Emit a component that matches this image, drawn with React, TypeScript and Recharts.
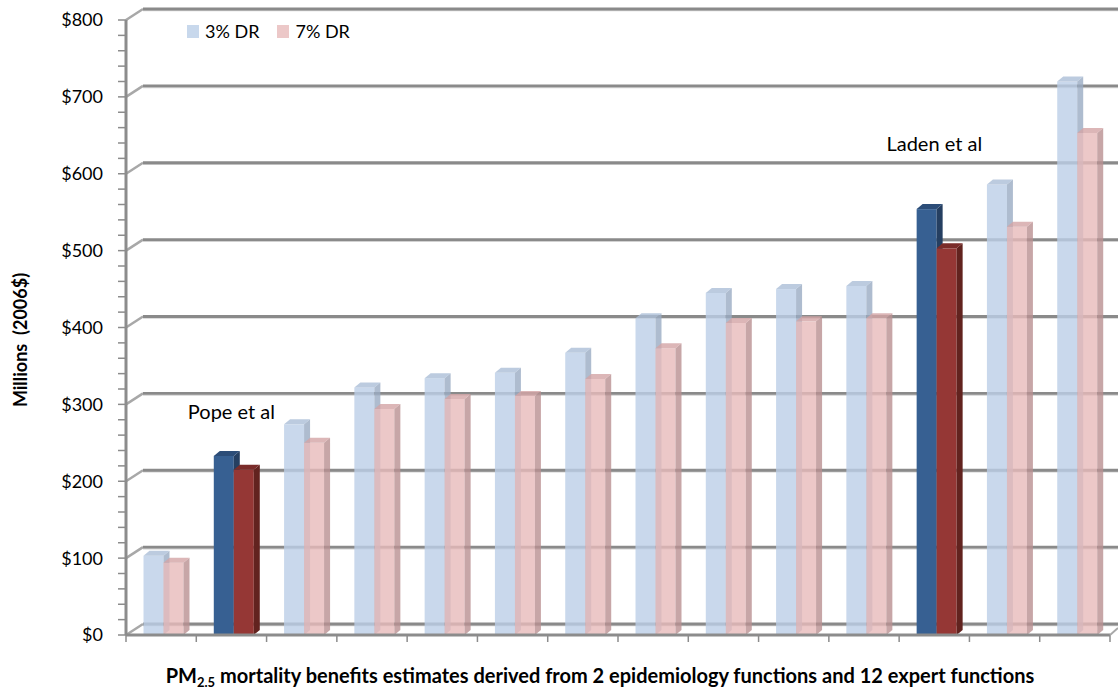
import React from 'react';
import { BarChart, Bar, XAxis, YAxis, CartesianGrid, Legend, ReferenceDot } from 'recharts';

const categories = ['Expert E', 'Pope et al', 'Expert K', 'Expert G', 'Expert L', 'Expert J', 'Expert C', 'Expert I', 'Expert H', 'Expert D', 'Expert F', 'Laden et al', 'Expert B', 'Expert A'];
const dr3Values = [103, 233, 274, 322, 334, 341, 367, 412, 445, 450, 454, 554, 586, 720];
const dr7Values = [94, 215, 250, 294, 307, 311, 333, 373, 406, 408, 412, 503, 531, 653];
const highlighted = ['Pope et al', 'Laden et al'];
const seriesNames = ['3% DR', '7% DR'];
const yTicks = [0, 20, 40, 60, 80, 100, 120, 140, 160, 180, 200, 220, 240, 260, 280, 300, 320, 340, 360, 380, 400, 420, 440, 460, 480, 500, 520, 540, 560, 580, 600, 620, 640, 660, 680, 700, 720, 740, 760, 780, 800];
const gridValues = [0, 100, 200, 300, 400, 500, 600, 700, 800];
const annotations = [
  { category: 'Pope et al', value: 281, text: 'Pope et al' },
  { category: 'Laden et al', value: 630, text: 'Laden et al' },
];

const data = categories.map((name, i) => ({ name, dr3: dr3Values[i], dr7: dr7Values[i] }));

const W = 1118;
const H = 690;
const M = { top: 20, right: 8, bottom: 0, left: 0 };
const YW = 126;
const XH = 55;
const BAND = (W - M.right - YW) / categories.length;
const DX = 17;
const DY = -11;
const FONT = 'Lato, "Open Sans", sans-serif';

const palette = {
  dr3: { light: ['#bbcee7', '#9aabc3', '#abbed7'], dark: ['#376092', '#253f61', '#2c4d78'] },
  dr7: { light: ['#e7baba', '#b99091', '#d3a4a5'], dark: ['#953735', '#62231f', '#7a2c2a'] },
};

const make3D = (key: 'dr3' | 'dr7') => (props: any) => {
  const { x, y, width, height, payload } = props;
  if (height == null || width == null) return null;
  const hl = highlighted.includes(payload.name);
  const [front, side, top] = hl ? palette[key].dark : palette[key].light;
  const op = hl ? 1 : 0.8;
  const bx = x + 2.5;
  const d = 6;
  const dy = 5;
  return (
    <g>
      <rect x={bx} y={y} width={width} height={height} fill={front} fillOpacity={op} />
      <polygon
        points={`${bx + width},${y} ${bx + width + d},${y - dy} ${bx + width + d},${y + height - dy} ${bx + width},${y + height}`}
        fill={side}
        fillOpacity={op}
      />
      <polygon
        points={`${bx},${y} ${bx + d},${y - dy} ${bx + width + d},${y - dy} ${bx + width},${y}`}
        fill={top}
        fillOpacity={op}
      />
    </g>
  );
};

const gridLine = (p: any) => {
  const { x1, y1, x2 } = p;
  return (
    <g key={`g-${y1}`}>
      <line x1={x1} y1={y1} x2={x1 + DX} y2={y1 + DY} stroke="#a8a8a8" strokeWidth={2.5} />
      <line x1={x1 + DX} y1={y1 + DY + 1.5} x2={x2 + 8} y2={y1 + DY + 1.5} stroke="#d2d2d2" strokeWidth={1.5} />
      <line x1={x1 + DX} y1={y1 + DY} x2={x2 + 8} y2={y1 + DY} stroke="#8a8a8a" strokeWidth={2.8} />
    </g>
  );
};

const xTick = (p: any) => {
  const { x, y, index, visibleTicksCount } = p;
  const last = index === visibleTicksCount - 1;
  return (
    <g>
      <line x1={x - BAND / 2} y1={y} x2={x - BAND / 2} y2={y + 7} stroke="#8c8c8c" strokeWidth={1.5} />
      {last && (
        <g>
          <line x1={x + BAND / 2} y1={y} x2={x + BAND / 2} y2={y + 7} stroke="#8c8c8c" strokeWidth={1.5} />
          <line x1={x + BAND / 2} y1={y} x2={x + BAND / 2 + 8} y2={y - 7} stroke="#a8a8a8" strokeWidth={2} />
        </g>
      )}
    </g>
  );
};

const legendContent = (props: any) => {
  const items = props.payload || [];
  return (
    <div style={{ display: 'flex', alignItems: 'center', fontFamily: FONT, fontSize: 18, color: '#000', lineHeight: '20px' }}>
      {items.map((it: any, i: number) => (
        <div key={i} style={{ display: 'flex', alignItems: 'center', marginRight: 18 }}>
          <span style={{ display: 'inline-block', width: 12, height: 13, background: it.color, marginRight: 6 }} />
          <span>{it.value}</span>
        </div>
      ))}
    </div>
  );
};

const legendColors = ['#c8d8ec', '#ecc8c8'];

export default function App() {
  return (
    <div style={{ position: 'absolute', left: 0, top: 0, width: W, height: H, background: '#fff' }}>
      <BarChart width={W} height={H} data={data} margin={M} barGap={0} barSize={20}>
        <CartesianGrid vertical={false} horizontalValues={gridValues} horizontal={gridLine} />
        <XAxis
          dataKey="name"
          interval={0}
          tickSize={0}
          tickMargin={0}
          tickLine={false}
          tick={xTick}
          height={XH}
          axisLine={{ stroke: '#8c8c8c', strokeWidth: 3 }}
          label={{
            content: () => (
              <text x={600} y={683} textAnchor="middle" fontFamily={FONT} fontWeight="bold" fontSize={20} fill="#000">
                PM<tspan fontSize={13} dy={4}>2.5</tspan>
                <tspan dy={-4}> mortality benefits estimates derived from 2 epidemiology functions and 12 expert functions</tspan>
              </text>
            ),
          }}
        />
        <YAxis
          width={YW}
          domain={[0, 800]}
          ticks={yTicks}
          interval={0}
          tickSize={8}
          tickMargin={15}
          tickFormatter={(v: number) => (v % 100 === 0 ? `$${v}` : '')}
          tick={{ fill: '#000', fontSize: 18, fontFamily: FONT }}
          tickLine={{ stroke: '#8c8c8c', strokeWidth: 1.5 }}
          axisLine={{ stroke: '#8c8c8c', strokeWidth: 3 }}
          label={{
            content: () => (
              <text x={20} y={340} transform="rotate(-90 20 340)" textAnchor="middle" dominantBaseline="central" fontFamily={FONT} fontWeight="bold" fontSize={18} fill="#000" style={{ whiteSpace: 'pre' }}>
                Millions  (2006$)
              </text>
            ),
          }}
        />
        <Legend
          layout="horizontal"
          verticalAlign="middle"
          align="center"
          wrapperStyle={{ top: 21, left: 187, width: 'auto' }}
          content={legendContent}
        />
        <Bar dataKey="dr3" name={seriesNames[0]} fill={legendColors[0]} isAnimationActive={false} shape={make3D('dr3')} />
        <Bar dataKey="dr7" name={seriesNames[1]} fill={legendColors[1]} isAnimationActive={false} shape={make3D('dr7')} />
        {annotations.map((a) => (
          <ReferenceDot
            key={a.text}
            x={a.category}
            y={a.value}
            r={0}
            fill="none"
            stroke="none"
            ifOverflow="visible"
            label={{
              content: (lp: any) => {
                const vb = lp.viewBox || {};
                const cx = (vb.x ?? 0) + (vb.width ?? 0) / 2;
                const cy = (vb.y ?? 0) + (vb.height ?? 0) / 2;
                return (
                  <text x={cx} y={cy} textAnchor="middle" fontFamily={FONT} fontSize={20} fill="#000">
                    {a.text}
                  </text>
                );
              },
            }}
          />
        ))}
      </BarChart>
    </div>
  );
}
